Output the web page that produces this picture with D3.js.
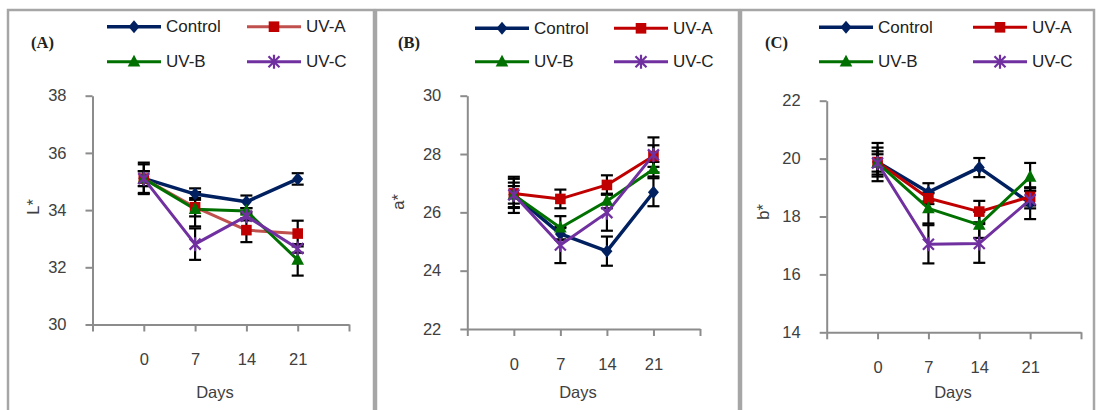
<!DOCTYPE html>
<html><head><meta charset="utf-8">
<script src="https://cdn.jsdelivr.net/npm/d3@7"></script>
<style>
html,body{margin:0;padding:0;background:#fff;}
svg{display:block;font-family:"Liberation Sans",Arial,sans-serif;}
</style></head>
<body>
<svg id="chart" width="1097" height="410"></svg>
<script>
// ---------- DATA ----------
const days = ["0", "7", "14", "21"];
const seriesNames = ["Control", "UV-A", "UV-B", "UV-C"];

// Panel A: L*
const lControl = [35.11, 34.56, 34.29, 35.09];
const lUVA     = [35.10, 34.10, 33.30, 33.18];
const lUVB     = [35.10, 34.03, 33.97, 32.26];
const lUVC     = [35.10, 32.81, 33.79, 32.66];
const lErrControl = [0.55, 0.20, 0.22, 0.20];
const lErrUVA     = [0.50, 0.32, 0.42, 0.45];
const lErrUVB     = [0.26, 0.60, 0.10, 0.55];
const lErrUVC     = [0.26, 0.55, 0.15, 0.15];
const lTicks = [30, 32, 34, 36, 38];

// Panel B: a*
const aControl = [26.60, 25.26, 24.67, 26.69];
const aUVA     = [26.65, 26.46, 26.94, 27.93];
const aUVB     = [26.60, 25.47, 26.39, 27.48];
const aUVC     = [26.60, 24.88, 25.99, 27.97];
const aErrControl = [0.62, 0.20, 0.50, 0.48];
const aErrUVA     = [0.50, 0.32, 0.33, 0.37];
const aErrUVB     = [0.42, 0.40, 0.25, 0.25];
const aErrUVC     = [0.30, 0.62, 0.62, 0.60];
const aTicks = [22, 24, 26, 28, 30];

// Panel C: b*
const bControl = [19.88, 18.84, 19.69, 18.46];
const bUVA     = [19.88, 18.63, 18.17, 18.68];
const bUVB     = [19.85, 18.28, 17.71, 19.37];
const bUVC     = [19.85, 17.04, 17.07, 18.58];
const bErrControl = [0.66, 0.31, 0.33, 0.55];
const bErrUVA     = [0.50, 0.20, 0.37, 0.30];
const bErrUVB     = [0.40, 0.52, 0.45, 0.48];
const bErrUVC     = [0.30, 0.66, 0.67, 0.30];
const bTicks = [14, 16, 18, 20, 22];

// ---------- STYLE ----------
const markerColors = ["#002060", "#C00000", "#007000", "#7030A0"];
const markerShapes = ["diamond", "square", "triangle", "star"];

const panels = [
  {tag:"(A)", ylab:"L*", vals:[lControl,lUVA,lUVB,lUVC], errs:[lErrControl,lErrUVA,lErrUVB,lErrUVC], ticks:lTicks,
   lineColors:["#002060","#C0504D","#007000","#7030A0"],
   box:[8,10,374,412], x0:92.5, x1:349, yTop:95.7, yBot:324.5, ylabX:33, ylabY:207, daysX:215,
   tagX:31, leg:{c1:107, c2:247, r1:26.7, r2:61.7}},
  {tag:"(B)", ylab:"a*", vals:[aControl,aUVA,aUVB,aUVC], errs:[aErrControl,aErrUVA,aErrUVB,aErrUVC], ticks:aTicks,
   lineColors:["#002060","#C00000","#007000","#7030A0"],
   box:[376,10,739,412], x0:467.3, x1:700, yTop:95.7, yBot:329, ylabX:398, ylabY:202, daysX:578,
   tagX:398, leg:{c1:475, c2:614, r1:28.3, r2:61.7}},
  {tag:"(C)", ylab:"b*", vals:[bControl,bUVA,bUVB,bUVC], errs:[bErrControl,bErrUVA,bErrUVB,bErrUVC], ticks:bTicks,
   lineColors:["#002060","#C00000","#007000","#7030A0"],
   box:[741,10,1094,412], x0:826.7, x1:1081, yTop:100.7, yBot:332.3, ylabX:763, ylabY:212, daysX:953,
   tagX:765, leg:{c1:819, c2:973, r1:27.3, r2:61.7}}
];

const svg = d3.select("#chart");

function drawMarker(g, shape, color, x, y) {
  if (shape === "diamond") {
    g.append("path").attr("d", "M0,-6.5L5.5,0L0,6.5L-5.5,0Z")
      .attr("transform", `translate(${x},${y})`).attr("fill", color);
  } else if (shape === "square") {
    g.append("rect").attr("x", x-5.3).attr("y", y-5.3).attr("width", 10.6).attr("height", 10.6).attr("fill", color);
  } else if (shape === "triangle") {
    g.append("path").attr("d", "M0,-7L6.3,4.8L-6.3,4.8Z")
      .attr("transform", `translate(${x},${y})`).attr("fill", color);
  } else {
    g.append("path").attr("d", "M-5.5,-5.5L5.5,5.5M-5.5,5.5L5.5,-5.5M0,-7L0,7")
      .attr("transform", `translate(${x},${y})`).attr("stroke", color).attr("stroke-width", 2.2).attr("fill", "none");
  }
}

panels.forEach(p => {
  const g = svg.append("g");
  // panel frame
  g.append("rect").attr("x", p.box[0]).attr("y", p.box[1])
    .attr("width", p.box[2]-p.box[0]).attr("height", p.box[3]-p.box[1])
    .attr("fill", "none").attr("stroke", "#a6a6a6").attr("stroke-width", 2.5);

  const x = d3.scaleLinear().domain([-1, 4]).range([p.x0, p.x1]);
  const y = d3.scaleLinear().domain([p.ticks[0], p.ticks[p.ticks.length-1]]).range([p.yBot, p.yTop]);

  // y axis
  const ya = g.append("g").attr("transform", `translate(${p.x0},0)`)
    .call(d3.axisLeft(y).tickValues(p.ticks).tickSize(7).tickPadding(19).tickSizeOuter(0).tickFormat(d3.format("d")));
  // x axis
  const xa = g.append("g").attr("transform", `translate(0,${p.yBot})`)
    .call(d3.axisBottom(x).tickValues([-1,0,1,2,3,4]).tickSize(7).tickPadding(22).tickSizeOuter(0)
      .tickFormat(i => (i >= 0 && i < days.length) ? days[i] : ""));
  [ya, xa].forEach(a => {
    a.select(".domain").attr("stroke", "#8c8c8c").attr("stroke-width", 2);
    a.selectAll(".tick line").attr("stroke", "#8c8c8c").attr("stroke-width", 2);
    a.selectAll(".tick text").attr("fill", "#404040").style("font-size", "16.5px")
      .style("font-family", "'Liberation Sans',Arial,sans-serif");
  });

  // axis titles
  g.append("text").attr("transform", `translate(${p.ylabX},${p.ylabY}) rotate(-90)`)
    .attr("text-anchor", "middle").attr("dy", "0.35em").attr("fill", "#404040")
    .style("font-size", "16.5px").text(p.ylab);
  g.append("text").attr("x", p.daysX).attr("y", 392).attr("text-anchor", "middle").attr("dy", "0.35em")
    .attr("fill", "#404040").style("font-size", "16.5px").text("Days");

  // panel tag
  g.append("text").attr("x", p.tagX).attr("y", 42).attr("dy", "0.35em")
    .style("font-family", "'Liberation Serif','Times New Roman',serif").style("font-weight", "bold")
    .style("font-size", "16.5px").attr("fill", "#222").text(p.tag);

  // legend
  const legPos = [[p.leg.c1, p.leg.r1], [p.leg.c2, p.leg.r1], [p.leg.c1, p.leg.r2], [p.leg.c2, p.leg.r2]];
  seriesNames.forEach((name, si) => {
    const [lx, ly] = legPos[si];
    g.append("line").attr("x1", lx).attr("x2", lx+54).attr("y1", ly).attr("y2", ly)
      .attr("stroke", p.lineColors[si]).attr("stroke-width", si === 0 ? 3.5 : 3);
    drawMarker(g, markerShapes[si], markerColors[si], lx+27, ly);
    g.append("text").attr("x", lx+59).attr("y", ly).attr("dy", "0.33em")
      .attr("fill", "#222").style("font-size", "17px").text(name);
  });

  // error bars
  const eg = g.append("g");
  p.vals.forEach((vals, si) => {
    vals.forEach((v, i) => {
      const e = p.errs[si][i];
      const cx = x(i);
      eg.append("line").attr("x1", cx).attr("x2", cx).attr("y1", y(v-e)).attr("y2", y(v+e))
        .attr("stroke", "#000").attr("stroke-width", 2.2);
      [v-e, v+e].forEach(t => eg.append("line").attr("x1", cx-6).attr("x2", cx+6).attr("y1", y(t)).attr("y2", y(t))
        .attr("stroke", "#000").attr("stroke-width", 2.2));
    });
  });

  // lines and markers
  const line = d3.line().x((d, i) => x(i)).y(d => y(d));
  p.vals.forEach((vals, si) => {
    g.append("path").datum(vals).attr("d", line).attr("fill", "none")
      .attr("stroke", p.lineColors[si]).attr("stroke-width", si === 0 ? 3.5 : 3).attr("stroke-linejoin", "round");
  });
  p.vals.forEach((vals, si) => {
    vals.forEach((v, i) => drawMarker(g, markerShapes[si], markerColors[si], x(i), y(v)));
  });
});
</script>
</body></html>
